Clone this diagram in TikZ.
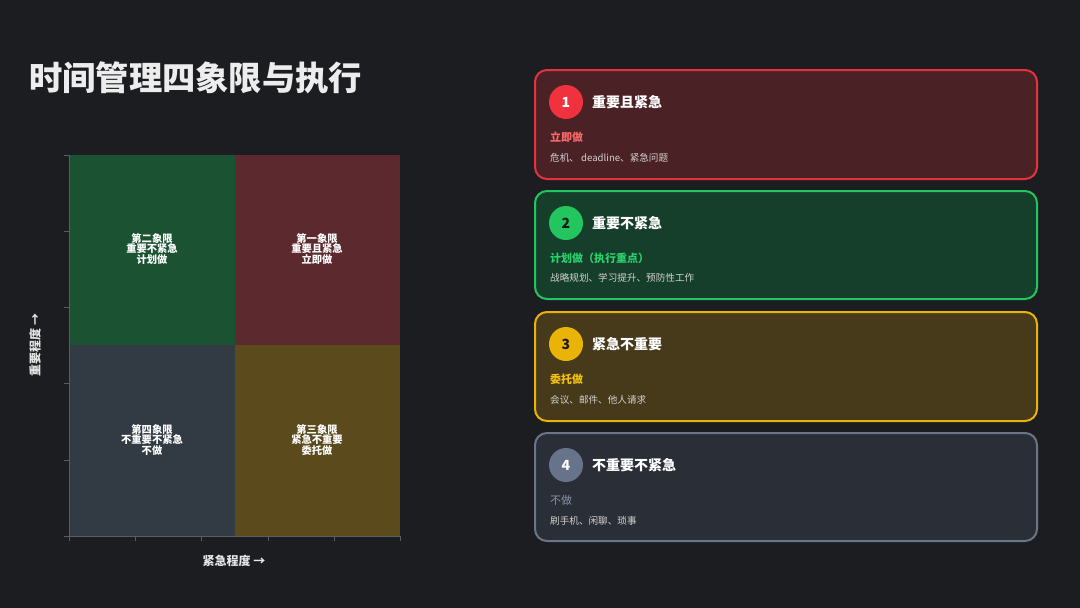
\documentclass[tikz,border=0pt]{standalone}
\usepackage{fontspec}
\setmainfont{Noto Sans CJK SC}
\begin{document}
\begin{tikzpicture}[x=1pt,y=-1pt,
  qlabel/.style={text=white,font=\fontsize{10.3}{10.5}\selectfont\bfseries,align=center},
  card/.style={rounded corners=12pt,line width=2pt},
  badge/.style={circle,minimum size=34pt,inner sep=0pt,font=\fontsize{14}{14}\selectfont\bfseries},
  ctitle/.style={anchor=west,text=white,font=\fontsize{14}{14}\selectfont\bfseries,inner sep=0pt},
  csub/.style={anchor=west,font=\fontsize{11}{11}\selectfont\bfseries,inner sep=0pt},
  cdesc/.style={anchor=west,text=descgray,font=\fontsize{9.6}{10}\selectfont,inner sep=0pt},
  axislabel/.style={text=white!90!black,font=\fontsize{12}{12}\selectfont\bfseries}
]
\definecolor{bg}{HTML}{1C1D21}
\definecolor{qgreen}{HTML}{1B5231}
\definecolor{qred}{HTML}{5C2A2E}
\definecolor{qgray}{HTML}{323A44}
\definecolor{qolive}{HTML}{5A4A1C}
\definecolor{axisc}{HTML}{5A5D63}
\definecolor{c1fill}{HTML}{4A2125}
\definecolor{c1line}{HTML}{E5323F}
\definecolor{c1badge}{HTML}{F0313E}
\definecolor{c1sub}{HTML}{F76A6A}
\definecolor{c2fill}{HTML}{163F2B}
\definecolor{c2line}{HTML}{22C55E}
\definecolor{c2sub}{HTML}{2AD16A}
\definecolor{c3fill}{HTML}{473A1A}
\definecolor{c3line}{HTML}{EAB308}
\definecolor{c3sub}{HTML}{F5C211}
\definecolor{c4fill}{HTML}{2A2E36}
\definecolor{c4line}{HTML}{6B7588}
\definecolor{c4badge}{HTML}{67738A}
\definecolor{c4sub}{HTML}{8A94A6}
\definecolor{descgray}{HTML}{D2D2D2}
\definecolor{numdark}{HTML}{1A1A1A}

\fill[bg] (0,0) rectangle (1080,608);
\useasboundingbox (0,0) rectangle (1080,608);

% title
\node[anchor=west,text=white!93!black,font=\fontsize{33.3}{33.3}\selectfont\bfseries,inner sep=0pt] (title) at (29,78) {时间管理四象限与执行};

% quadrants
\fill[qgreen] (69,155) rectangle (235,345);
\fill[qred] (235,155) rectangle (400,345);
\fill[qgray] (69,345) rectangle (235,536);
\fill[qolive] (235,345) rectangle (400,536);

% axes
\draw[axisc,line width=0.8pt] (69,155) -- (69,536) -- (400,536);
\foreach \y in {155,231,307,383,460,536} \draw[axisc,line width=0.8pt] (64,\y) -- (69,\y);
\foreach \x in {69,135,201,268,334,400} \draw[axisc,line width=0.8pt] (\x,536) -- (\x,541);

\node[qlabel] (q2) at (152,249) {第二象限\\重要不紧急\\计划做};
\node[qlabel] (q1) at (317,249) {第一象限\\重要且紧急\\立即做};
\node[qlabel] (q4) at (152,440) {第四象限\\不重要不紧急\\不做};
\node[qlabel] (q3) at (317,440) {第三象限\\紧急不重要\\委托做};

\node[axislabel] (xl) at (234,561) {紧急程度 →};
\node[axislabel,rotate=90] (yl) at (35,345) {重要程度 →};

% cards
\draw[card,fill=c1fill,draw=c1line] (535,70) rectangle (1037,179);
\node[badge,fill=c1badge,text=white] (b1) at (566,102) {1};
\node[ctitle] (t1) at (592,102) {重要且紧急};
\node[csub,text=c1sub] (s1) at (550,137) {立即做};
\node[cdesc] (d1) at (550,158) {危机、 deadline、紧急问题};

\draw[card,fill=c2fill,draw=c2line] (535,191) rectangle (1037,299);
\node[badge,fill=c2line,text=numdark] (b2) at (566,223) {2};
\node[ctitle] (t2) at (592,223) {重要不紧急};
\node[csub,text=c2sub] (s2) at (550,258) {计划做（执行重点）};
\node[cdesc] (d2) at (550,278) {战略规划、学习提升、预防性工作};

\draw[card,fill=c3fill,draw=c3line] (535,312) rectangle (1037,421);
\node[badge,fill=c3line,text=numdark] (b3) at (566,344) {3};
\node[ctitle] (t3) at (592,344) {紧急不重要};
\node[csub,text=c3sub] (s3) at (550,379) {委托做};
\node[cdesc] (d3) at (550,400) {会议、邮件、他人请求};

\draw[card,fill=c4fill,draw=c4line] (535,433) rectangle (1037,541);
\node[badge,fill=c4badge,text=white] (b4) at (566,465) {4};
\node[ctitle] (t4) at (592,465) {不重要不紧急};
\node[csub,text=c4sub,font=\fontsize{11}{11}\selectfont] (s4) at (550,500) {不做};
\node[cdesc] (d4) at (550,521) {刷手机、闲聊、琐事};
\end{tikzpicture}
\end{document}
